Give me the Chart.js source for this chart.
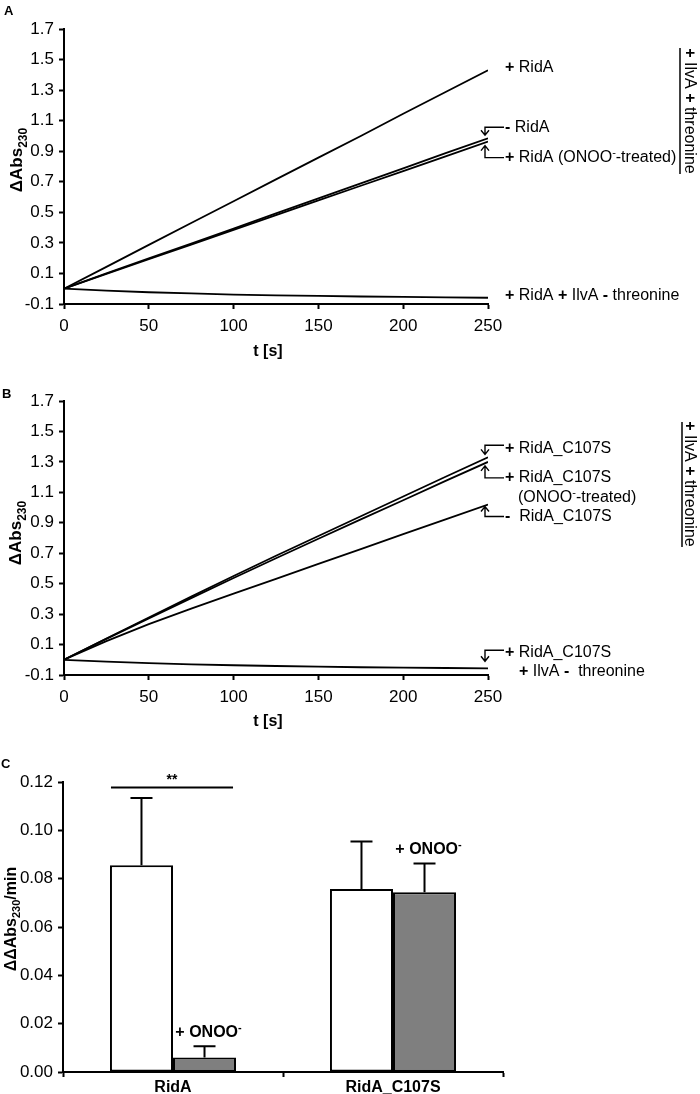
<!DOCTYPE html>
<html><head><meta charset="utf-8">
<script src="https://cdn.jsdelivr.net/npm/chart.js@4.4.1/dist/chart.umd.min.js"></script>
<style>
html,body{margin:0;padding:0;background:#fff;}
#wrap{position:relative;width:700px;height:1094px;overflow:hidden;}
canvas{position:absolute;left:0;top:0;}
</style></head><body>
<div id="wrap">
<canvas id="cA" width="700" height="1094"></canvas>
<canvas id="cB" width="700" height="1094"></canvas>
<canvas id="cC" width="700" height="1094"></canvas>
</div>
<script>
// ---------- data ----------
const timeS = [0, 25, 50, 75, 100, 125, 150, 175, 200, 225, 250];
// Panel A
const aRidA      = [0.00, 0.143, 0.287, 0.43, 0.573, 0.716, 0.858, 1.00, 1.145, 1.288, 1.43];
const aNoRidA    = [0.00, 0.10, 0.198, 0.296, 0.394, 0.493, 0.591, 0.69, 0.788, 0.887, 0.985];
const aRidAOnoo  = [0.00, 0.097, 0.193, 0.289, 0.385, 0.482, 0.578, 0.674, 0.77, 0.866, 0.963];
const aNoThr     = [0.00, -0.012, -0.023, -0.031, -0.038, -0.043, -0.047, -0.051, -0.054, -0.057, -0.059];
// Panel B
const bC107S     = [0.00, 0.14, 0.278, 0.415, 0.55, 0.683, 0.813, 0.943, 1.073, 1.202, 1.33];
const bC107SOnoo = [0.00, 0.137, 0.272, 0.405, 0.537, 0.667, 0.795, 0.922, 1.048, 1.175, 1.30];
const bNoC107S   = [0.00, 0.123, 0.234, 0.336, 0.435, 0.532, 0.63, 0.727, 0.825, 0.923, 1.02];
const bNoThr     = [0.00, -0.012, -0.022, -0.030, -0.036, -0.041, -0.045, -0.049, -0.052, -0.054, -0.056];
const yTicksKinetic = [-0.1, 0.1, 0.3, 0.5, 0.7, 0.9, 1.1, 1.3, 1.5, 1.7];
const xTicksKinetic = [0, 50, 100, 150, 200, 250];
// Panel C
const barCategories = ['RidA', 'RidA_C107S'];
const rateUntreated = [0.0856, 0.0757];
const rateOnoo      = [0.0060, 0.0744];
const errUntreated  = [0.0278, 0.0197];
const errOnoo       = [0.0047, 0.0119];
const sigLevel      = 0.1177;
const yTicksRate = [0.00, 0.02, 0.04, 0.06, 0.08, 0.10, 0.12];

// ---------- helpers ----------
const FAM = '"Liberation Sans", Arial, Helvetica, sans-serif';
const P = t => ({t, b:true});
const N = t => ({t});
const S = (t, b) => ({t, sup:true, b:!!b});
const SB = (t) => ({t, sub:true, b:true});
function fontOf(p, size){ const s = (p.sup||p.sub) ? Math.round(size*0.7) : size; return (p.b?'bold ':'') + s + 'px ' + FAM; }
function drawRich(ctx, x, yc, parts, align, size){
  size = size || 16;
  ctx.save();
  ctx.fillStyle = '#000';
  ctx.textBaseline = 'alphabetic';
  ctx.textAlign = 'left';
  let w = 0;
  const ws = parts.map(p => { ctx.font = fontOf(p, size); const m = ctx.measureText(p.t).width; w += m; return m; });
  let cx = align === 'center' ? x - w/2 : x;
  const base = yc + size*0.36;
  parts.forEach((p, i) => {
    ctx.font = fontOf(p, size);
    let by = base;
    if (p.sup) by = base - size*0.38;
    if (p.sub) by = base + size*0.28;
    ctx.fillText(p.t, cx, by);
    cx += ws[i];
  });
  ctx.restore();
  return w;
}
function drawRot(ctx, cx, cy, ang, parts, size){
  ctx.save(); ctx.translate(cx, cy); ctx.rotate(ang);
  drawRich(ctx, 0, 0, parts, 'center', size);
  ctx.restore();
}
function bracket(ctx, bx, cy, tipY, x2){
  ctx.save();
  ctx.strokeStyle = '#000'; ctx.lineWidth = 1.4;
  ctx.beginPath();
  ctx.moveTo(x2, cy); ctx.lineTo(bx, cy); ctx.lineTo(bx, tipY);
  const d = tipY > cy ? -5 : 5;
  ctx.moveTo(bx-4, tipY + d); ctx.lineTo(bx, tipY); ctx.lineTo(bx+4, tipY + d);
  ctx.stroke();
  ctx.restore();
}
function vline(ctx, x, y1, y2){
  ctx.save(); ctx.strokeStyle='#000'; ctx.lineWidth=1.5;
  ctx.beginPath(); ctx.moveTo(x, y1); ctx.lineTo(x, y2); ctx.stroke(); ctx.restore();
}
const last = a => a[a.length-1];

const axisGrid = { display:true, drawOnChartArea:false, drawTicks:true, tickLength:5, tickWidth:2, tickColor:'#000' };
const axisBorder = { display:true, color:'#000', width:2 };
const tickFont = { family: FAM, size: 17 };

function kinetic(id, sets, area, annotate){
  return new Chart(document.getElementById(id), {
    type: 'line',
    data: { datasets: sets.map(arr => ({
      data: timeS.map((t, i) => ({x:t, y:arr[i]})),
      borderColor:'#000', borderWidth:1.8, pointRadius:0, tension:0, fill:false
    })) },
    options: {
      responsive:false, animation:false, events:[],
      layout:{ padding:{ left:0, top:area.top, right:700-area.right, bottom:1094-area.bottom-area.xh } },
      plugins:{ legend:{display:false}, tooltip:{enabled:false} },
      scales:{
        x:{ type:'linear', min:0, max:250,
            afterBuildTicks: s => { s.ticks = xTicksKinetic.map(v => ({value:v})); },
            afterFit: s => { s.height = area.xh; },
            ticks:{ color:'#000', font:tickFont, padding:7, maxRotation:0, autoSkip:false, callback: v => String(v) },
            grid: axisGrid, border: axisBorder },
        y:{ type:'linear', min:-0.1, max:1.7,
            afterBuildTicks: s => { s.ticks = yTicksKinetic.map(v => ({value:v})); },
            afterFit: s => { s.width = area.left; },
            ticks:{ color:'#000', font:tickFont, padding:5, autoSkip:false, callback: v => Number(v).toFixed(1) },
            grid: axisGrid, border: axisBorder }
      }
    },
    plugins:[{ id:'ann_'+id, afterDraw: c => annotate(c, c.ctx) }]
  });
}

// ---------- Panel A ----------
kinetic('cA', [aRidA, aNoRidA, aRidAOnoo, aNoThr], {left:64, right:488, top:29, bottom:304, xh:40}, (c, ctx) => {
  const X = c.scales.x, Y = c.scales.y;
  const xe = X.getPixelForValue(last(timeS));
  const tx = xe + 17, bx = xe - 3;
  drawRich(ctx, 4, 10, [P('A')], 'left', 13);
  drawRot(ctx, 16, 160, -Math.PI/2, [P('ΔAbs'), SB('230')], 17);
  drawRich(ctx, 268, 350, [P('t [s]')], 'center', 16);
  drawRich(ctx, tx, Y.getPixelForValue(last(aRidA)) - 4, [P('+'), N(' RidA')]);
  let yl = Y.getPixelForValue(last(aNoRidA));
  bracket(ctx, bx, yl - 11, yl - 3, tx - 1);
  drawRich(ctx, tx, yl - 12, [P('-'), N(' RidA')]);
  yl = Y.getPixelForValue(last(aRidAOnoo));
  bracket(ctx, bx, yl + 16, yl + 4, tx - 1);
  drawRich(ctx, tx, yl + 15, [P('+'), N(' RidA (ONOO'), S('-'), N('-treated)')]);
  yl = Y.getPixelForValue(last(aNoThr));
  drawRich(ctx, tx, yl - 3, [P('+'), N(' RidA '), P('+'), N(' IlvA '), P('-'), N(' threonine')]);
  vline(ctx, 680, 48, 174);
  drawRot(ctx, 691, 111, Math.PI/2, [P('+'), N(' IlvA '), P('+'), N(' threonine')], 16);
});

// ---------- Panel B ----------
kinetic('cB', [bC107S, bC107SOnoo, bNoC107S, bNoThr], {left:64, right:488, top:401, bottom:675, xh:40}, (c, ctx) => {
  const X = c.scales.x, Y = c.scales.y;
  const xe = X.getPixelForValue(last(timeS));
  const tx = xe + 17, bx = xe - 3;
  drawRich(ctx, 2, 393, [P('B')], 'left', 13);
  drawRot(ctx, 15, 533, -Math.PI/2, [P('ΔAbs'), SB('230')], 17);
  drawRich(ctx, 268, 720, [P('t [s]')], 'center', 16);
  let yl = Y.getPixelForValue(last(bC107S));
  bracket(ctx, bx, yl - 12, yl - 3, tx - 1);
  drawRich(ctx, tx, yl - 10, [P('+'), N(' RidA_C107S')]);
  yl = Y.getPixelForValue(last(bC107SOnoo));
  bracket(ctx, bx, yl + 16, yl + 4, tx - 1);
  drawRich(ctx, tx, yl + 14, [P('+'), N(' RidA_C107S')]);
  drawRich(ctx, tx + 13, yl + 34, [N('(ONOO'), S('-'), N('-treated)')]);
  yl = Y.getPixelForValue(last(bNoC107S));
  bracket(ctx, bx, yl + 12, yl + 2, tx - 1);
  drawRich(ctx, tx, yl + 11, [P('-'), N('  RidA_C107S')]);
  yl = Y.getPixelForValue(last(bNoThr));
  bracket(ctx, bx, yl - 18, yl - 7, tx - 1);
  drawRich(ctx, tx, yl - 17, [P('+'), N(' RidA_C107S')]);
  drawRich(ctx, tx + 14, yl + 2, [P('+'), N(' IlvA '), P('-'), N('  threonine')]);
  vline(ctx, 682, 422, 547);
  drawRot(ctx, 691, 484, Math.PI/2, [P('+'), N(' IlvA '), P('+'), N(' threonine')], 16);
});

// ---------- Panel C ----------
const errs = [errUntreated, errOnoo];
new Chart(document.getElementById('cC'), {
  type:'bar',
  data:{ labels: barCategories, datasets:[
    { data: rateUntreated, backgroundColor:'#ffffff', borderColor:'#000', borderWidth:2, borderSkipped:false, categoryPercentage:0.573, barPercentage:1 },
    { data: rateOnoo, backgroundColor:'#7f7f7f', borderColor:'#000', borderWidth:2, borderSkipped:false, categoryPercentage:0.573, barPercentage:1 }
  ]},
  options:{
    responsive:false, animation:false, events:[],
    layout:{ padding:{ left:0, top:782, right:700-503, bottom:0 } },
    plugins:{ legend:{display:false}, tooltip:{enabled:false} },
    scales:{
      x:{ afterFit: s => { s.height = 22; },
          ticks:{ color:'#000', font:{family:FAM, size:16, weight:'bold'}, padding:1, maxRotation:0, autoSkip:false },
          grid: Object.assign({}, axisGrid, {offset:true}), border: axisBorder },
      y:{ min:0, max:0.12,
          afterBuildTicks: s => { s.ticks = yTicksRate.map(v => ({value:v})); },
          afterFit: s => { s.width = 63; },
          ticks:{ color:'#000', font:tickFont, padding:5, autoSkip:false, callback: v => Number(v).toFixed(2) },
          grid: axisGrid, border: axisBorder }
    }
  },
  plugins:[{ id:'errC', afterDatasetsDraw: c => {
    const ctx = c.ctx, Y = c.scales.y;
    ctx.save(); ctx.strokeStyle = '#000'; ctx.lineWidth = 2;
    c.data.datasets.forEach((ds, di) => {
      c.getDatasetMeta(di).data.forEach((el, j) => {
        const yTop = Y.getPixelForValue(ds.data[j]);
        const yE = Y.getPixelForValue(ds.data[j] + errs[di][j]);
        ctx.beginPath(); ctx.moveTo(el.x, yTop); ctx.lineTo(el.x, yE);
        ctx.moveTo(el.x - 11, yE); ctx.lineTo(el.x + 11, yE); ctx.stroke();
        if (di === 1) drawRich(ctx, el.x + 4, yE - 15, [P('+ ONOO'), S('-', true)], 'center', 16);
      });
    });
    // significance bar
    const e0 = c.getDatasetMeta(0).data[0], e1 = c.getDatasetMeta(1).data[0];
    const ys = Y.getPixelForValue(sigLevel);
    ctx.beginPath(); ctx.moveTo(e0.x - e0.width/2 + 1, ys); ctx.lineTo(e1.x + e1.width/2 - 3, ys); ctx.stroke();
    ctx.restore();
    drawRich(ctx, (e0.x + e1.x)/2 - 1, ys - 9, [P('**')], 'center', 14);
    drawRich(ctx, 1, 763, [P('C')], 'left', 13);
    drawRot(ctx, 10, 919, -Math.PI/2, [P('ΔΔAbs'), SB('230'), P('/min')], 16);
  }}]
});
</script>
</body></html>
